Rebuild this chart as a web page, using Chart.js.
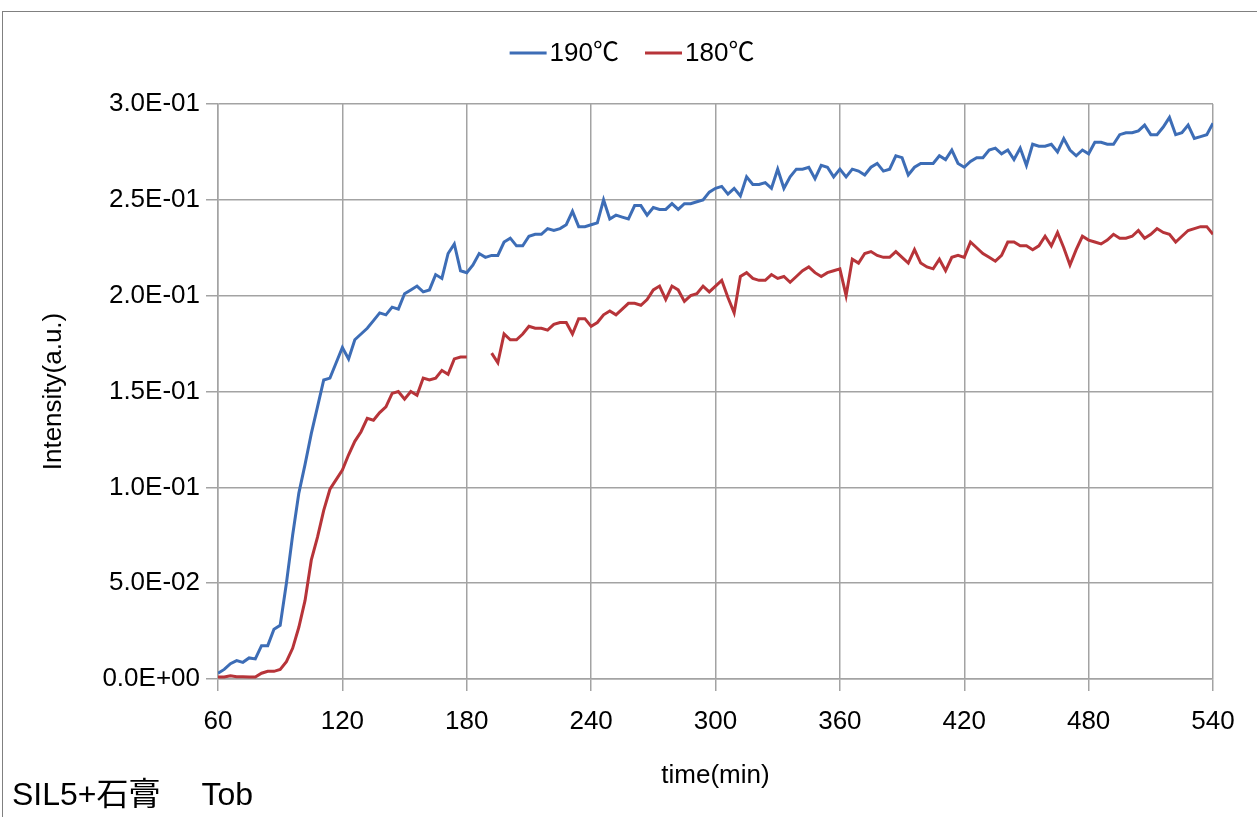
<!DOCTYPE html>
<html>
<head>
<meta charset="utf-8">
<script src="https://cdn.jsdelivr.net/npm/chart.js@4.4.0/dist/chart.umd.min.js"></script>
<style>
  html, body { margin: 0; padding: 0; background: #fff; }
  #wrap { position: relative; width: 1257px; height: 817px; overflow: hidden; }
  #frame { position: absolute; left: 2px; top: 11px; right: -10px; bottom: -10px;
           border-left: 1px solid #808080; border-top: 1px solid #808080; }
  #note { position: absolute; left: 12px; top: 768px; color: #000; white-space: pre;
          line-height: 36px;
          font: 32px "Liberation Sans", "Noto Sans CJK JP", sans-serif; }
  canvas { position: absolute; left: 0; top: 0; }
</style>
</head>
<body>
<div id="wrap">
  <div id="frame"></div>
  <canvas id="myChart" width="1257" height="817"></canvas>
  <div id="note">SIL5+石膏　 Tob</div>
</div>
<script>
// time (min), one reading about every 3 min
const times = [
  60, 63, 66, 69, 72, 75, 78, 81, 84, 87,
  90, 93, 96, 99, 102, 105, 108, 111, 114, 117,
  120, 123, 126, 129, 132, 135, 138, 141, 144, 147,
  150, 153, 156, 159, 162, 165, 168, 171, 174, 177,
  180, 183, 186, 189, 192, 195, 198, 201, 204, 207,
  210, 213, 216, 219, 222, 225, 228, 231, 234, 237,
  240, 243, 246, 249, 252, 255, 258, 261, 264, 267,
  270, 273, 276, 279, 282, 285, 288, 291, 294, 297,
  300, 303, 306, 309, 312, 315, 318, 321, 324, 327,
  330, 333, 336, 339, 342, 345, 348, 351, 354, 357,
  360, 363, 366, 369, 372, 375, 378, 381, 384, 387,
  390, 393, 396, 399, 402, 405, 408, 411, 414, 417,
  420, 423, 426, 429, 432, 435, 438, 441, 444, 447,
  450, 453, 456, 459, 462, 465, 468, 471, 474, 477,
  480, 483, 486, 489, 492, 495, 498, 501, 504, 507,
  510, 513, 516, 519, 522, 525, 528, 531, 534, 537,
  540
];

const intensity190 = [
  0.003, 0.005, 0.008, 0.0096, 0.0087, 0.011, 0.0105, 0.0174, 0.0174, 0.026,
  0.028, 0.050, 0.075, 0.097, 0.112, 0.128, 0.142, 0.156, 0.157, 0.165,
  0.173, 0.167, 0.177, 0.180, 0.183, 0.187, 0.191, 0.190, 0.194, 0.193,
  0.201, 0.203, 0.205, 0.202, 0.203, 0.211, 0.209, 0.222, 0.227, 0.213,
  0.212, 0.216, 0.222, 0.220, 0.221, 0.221, 0.228, 0.230, 0.226, 0.226,
  0.231, 0.232, 0.232, 0.235, 0.234, 0.235, 0.237, 0.244, 0.236, 0.236,
  0.237, 0.238, 0.250, 0.240, 0.242, 0.241, 0.240, 0.247, 0.247, 0.242,
  0.246, 0.245, 0.245, 0.248, 0.245, 0.248, 0.248, 0.249, 0.250, 0.254,
  0.256, 0.257, 0.253, 0.256, 0.252, 0.262, 0.258, 0.258, 0.259, 0.256,
  0.266, 0.256, 0.262, 0.266, 0.266, 0.267, 0.261, 0.268, 0.267, 0.262,
  0.266, 0.262, 0.266, 0.265, 0.263, 0.267, 0.269, 0.265, 0.266, 0.273,
  0.272, 0.263, 0.267, 0.269, 0.269, 0.269, 0.273, 0.271, 0.276, 0.269,
  0.267, 0.270, 0.272, 0.272, 0.276, 0.277, 0.274, 0.276, 0.271, 0.277,
  0.268, 0.279, 0.278, 0.278, 0.279, 0.275, 0.282, 0.276, 0.273, 0.276,
  0.274, 0.280, 0.280, 0.279, 0.279, 0.284, 0.285, 0.285, 0.286, 0.289,
  0.284, 0.284, 0.288, 0.293, 0.284, 0.285, 0.289, 0.282, 0.283, 0.284,
  0.290
];

// null = no reading (gap in the 180 line)
const intensity180 = [
  0.001, 0.001, 0.0017, 0.0012, 0.0012, 0.001, 0.001, 0.003, 0.004, 0.004,
  0.005, 0.009, 0.016, 0.027, 0.041, 0.062, 0.074, 0.088, 0.099, 0.104,
  0.109, 0.117, 0.124, 0.129, 0.136, 0.135, 0.139, 0.142, 0.149, 0.150,
  0.146, 0.150, 0.148, 0.157, 0.156, 0.157, 0.161, 0.159, 0.167, 0.168,
  0.168, null, null, null, 0.170, 0.165, 0.180, 0.177, 0.177, 0.180,
  0.184, 0.183, 0.183, 0.182, 0.185, 0.186, 0.186, 0.180, 0.188, 0.188,
  0.184, 0.186, 0.190, 0.192, 0.190, 0.193, 0.196, 0.196, 0.195, 0.198,
  0.203, 0.205, 0.198, 0.205, 0.203, 0.197, 0.200, 0.201, 0.205, 0.202,
  0.205, 0.208, 0.199, 0.191, 0.210, 0.212, 0.209, 0.208, 0.208, 0.211,
  0.209, 0.210, 0.207, 0.210, 0.213, 0.215, 0.212, 0.210, 0.212, 0.213,
  0.214, 0.200, 0.219, 0.217, 0.222, 0.223, 0.221, 0.220, 0.220, 0.223,
  0.220, 0.217, 0.224, 0.217, 0.215, 0.214, 0.219, 0.213, 0.220, 0.221,
  0.220, 0.228, 0.225, 0.222, 0.220, 0.218, 0.221, 0.228, 0.228, 0.226,
  0.226, 0.224, 0.226, 0.231, 0.226, 0.233, 0.225, 0.216, 0.224, 0.231,
  0.229, 0.228, 0.227, 0.229, 0.232, 0.230, 0.230, 0.231, 0.234, 0.230,
  0.232, 0.235, 0.233, 0.232, 0.228, 0.231, 0.234, 0.235, 0.236, 0.236,
  0.232
];

const seriesNames = ['190℃', '180℃'];
const seriesColors = ['#3d6db6', '#b73439'];
const xTicks = [60, 120, 180, 240, 300, 360, 420, 480, 540];

const FONT = '"Liberation Sans", Arial, "Noto Sans CJK JP", sans-serif';
const GRID = '#a3a3a3';

const toPoints = (vals) => vals.map((v, i) => ({ x: times[i], y: v }));

// 3.0E-01 style labels
function sci(v) {
  if (Math.abs(v) < 1e-12) return '0.0E+00';
  const e = Math.floor(Math.log10(Math.abs(v)) + 1e-9);
  const m = v / Math.pow(10, e);
  return m.toFixed(1) + 'E' + (e < 0 ? '-' : '+') + String(Math.abs(e)).padStart(2, '0');
}

// legend drawn above the plot, centred like the original
const topLegend = {
  id: 'topLegend',
  afterDraw(chart) {
    const ctx = chart.ctx;
    ctx.save();
    ctx.font = '26px ' + FONT;
    ctx.textBaseline = 'middle';
    const lineLen = 37, gap = 3, itemGap = 26;
    const widths = seriesNames.map(n => lineLen + gap + ctx.measureText(n).width);
    const total = widths.reduce((a, b) => a + b, 0) + itemGap * (widths.length - 1);
    let x = 632 - total / 2;
    const y = 53;
    chart.data.datasets.forEach((ds, i) => {
      ctx.strokeStyle = ds.borderColor;
      ctx.lineWidth = 3;
      ctx.beginPath();
      ctx.moveTo(x, y);
      ctx.lineTo(x + lineLen, y);
      ctx.stroke();
      ctx.fillStyle = '#000';
      ctx.fillText(ds.label, x + lineLen + gap, y + 1);
      x += widths[i] + itemGap;
    });
    ctx.restore();
  }
};

const ctx = document.getElementById('myChart').getContext('2d');
new Chart(ctx, {
  type: 'line',
  data: {
    datasets: [
      { label: seriesNames[0], data: toPoints(intensity190), borderColor: seriesColors[0],
        backgroundColor: seriesColors[0], borderWidth: 3, pointRadius: 0, tension: 0 },
      { label: seriesNames[1], data: toPoints(intensity180), borderColor: seriesColors[1],
        backgroundColor: seriesColors[1], borderWidth: 3, pointRadius: 0, tension: 0, spanGaps: false }
    ]
  },
  options: {
    responsive: false,
    devicePixelRatio: 1,
    animation: false,
    layout: { padding: { left: 0, top: 104, right: 44, bottom: 0 } },
    plugins: { legend: { display: false }, tooltip: { enabled: false } },
    scales: {
      x: {
        type: 'linear', min: 60, max: 540,
        afterBuildTicks: (s) => { s.ticks = xTicks.map(v => ({ value: v })); },
        afterFit: (s) => { s.height = 138; },
        grid: { color: GRID, lineWidth: 1.5, tickLength: 12, drawTicks: true },
        border: { display: true, color: GRID, width: 1.5 },
        ticks: { color: '#000', font: { family: FONT, size: 26 }, padding: 15, maxRotation: 0 },
        title: { display: true, text: 'time(min)', color: '#000',
                 font: { family: FONT, size: 26 }, padding: { top: 0, bottom: 26 } }
      },
      y: {
        min: 0, max: 0.3,
        afterFit: (s) => { s.width = 218; },
        grid: { color: GRID, lineWidth: 1.5, tickLength: 12, drawTicks: true },
        border: { display: true, color: GRID, width: 1.5 },
        ticks: { stepSize: 0.05, color: '#000', font: { family: FONT, size: 26 }, padding: 6,
                 callback: (v) => sci(v) },
        title: { display: true, text: 'Intensity(a.u.)', color: '#000',
                 font: { family: FONT, size: 26 }, padding: { top: 38, bottom: 0 } }
      }
    }
  },
  plugins: [topLegend]
});
</script>
</body>
</html>
